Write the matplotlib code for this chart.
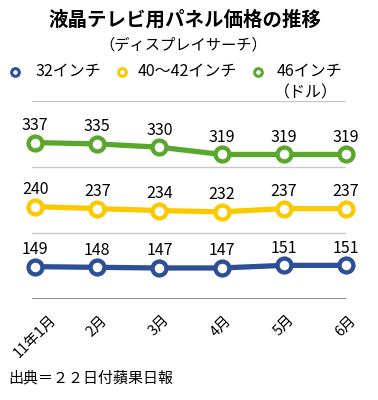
import matplotlib
matplotlib.use("Agg")
import matplotlib.pyplot as plt
from matplotlib.lines import Line2D

plt.rcParams['font.family'] = ['Noto Sans CJK JP', 'DejaVu Sans']

months = ["11年1月", "2月", "3月", "4月", "5月", "6月"]
series_names = ["32インチ", "40～42インチ", "46インチ"]
v32 = [149, 148, 147, 147, 151, 151]
v40 = [240, 237, 234, 232, 237, 237]
v46 = [337, 335, 330, 319, 319, 319]
colors = ["#2d4f95", "#fbc900", "#5aa82b"]
title = "液晶テレビ用パネル価格の推移"
subtitle = "（ディスプレイサーチ）"
unit = "（ドル）"
source = "出典＝２２日付蘋果日報"

W, H = 378, 400
fig = plt.figure(figsize=(W / 100, H / 100), dpi=100)
ax = fig.add_axes([32 / W, 1 - 299 / H, (346 - 32) / W, (299 - 101) / H])

x = list(range(len(months)))
for vals, c in zip([v32, v40, v46], colors):
    ax.plot(x, vals, color=c, lw=3.8, marker='o', ms=10, mew=3.1,
            mfc='white', mec=c, clip_on=False, zorder=3)
    for xi, v in zip(x, vals):
        ax.annotate(str(v), (xi, v), xytext=(0, 17), textcoords='offset pixels',
                    ha='center', va='center', fontsize=11.5, color='black', zorder=4)

ax.set_xlim(-0.05, 5.0)
ax.set_ylim(100, 400)
ax.set_yticks([100, 200, 300, 400])
ax.set_yticklabels([])
ax.tick_params(axis='y', length=0)
ax.grid(axis='y', color='#c8c8c8', lw=1)
ax.set_axisbelow(True)
for s in ax.spines.values():
    s.set_visible(False)
ax.axhline(100, color='#6d7b8a', lw=1.2, zorder=2)
ax.set_xticks(x)
ax.set_xticklabels(months, rotation=45, ha='center', va='top', fontsize=10.5)
ax.tick_params(axis='x', length=0, pad=10)

fig.text(185 / W, 1 - 20 / H, title, ha='center', va='center', fontsize=14, fontweight='bold')
fig.text(183 / W, 1 - 45 / H, subtitle, ha='center', va='center', fontsize=11)

mx = [15, 122, 258]
tx = [35, 138, 277]
ly = 1 - 72 / H
for name, c, m, t in zip(series_names, colors, mx, tx):
    fig.add_artist(Line2D([m / W], [ly], ls='none', marker='o', ms=5.5, mew=2.2,
                          mfc='white', mec=c, transform=fig.transFigure))
    fig.text(t / W, ly, name, ha='left', va='center', fontsize=11.5)
fig.text(306 / W, 1 - 93 / H, unit, ha='center', va='center', fontsize=11.5)

fig.text(8 / W, 1 - 378 / H, source, ha='left', va='center', fontsize=10.8)

fig.savefig("out.png", dpi=100, facecolor='white')
